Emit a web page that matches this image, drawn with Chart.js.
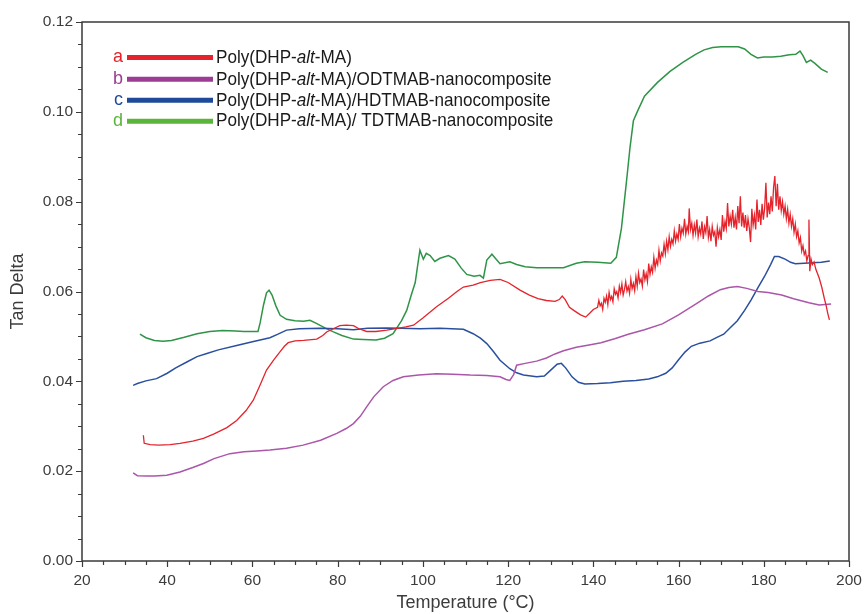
<!DOCTYPE html>
<html>
<head>
<meta charset="utf-8">
<script src="https://cdn.jsdelivr.net/npm/chart.js@4/dist/chart.umd.min.js"></script>
<style>
  html, body { margin: 0; padding: 0; background: #fff; }
  #wrap { width: 866px; height: 614px; }
</style>
</head>
<body>
<div id="wrap"><canvas id="c" width="866" height="614"></canvas></div>
<script>
// Tan delta vs temperature for the copolymer and its nanocomposites.

const seriesLetters = ['a', 'b', 'c', 'd'];
const seriesNames = [
  'Poly(DHP-alt-MA)',
  'Poly(DHP-alt-MA)/ODTMAB-nanocomposite',
  'Poly(DHP-alt-MA)/HDTMAB-nanocomposite',
  'Poly(DHP-alt-MA)/ TDTMAB-nanocomposite'
];

const xTickValues = [20, 40, 60, 80, 100, 120, 140, 160, 180, 200];
const yTickValues = [0, 0.02, 0.04, 0.06, 0.08, 0.10, 0.12];

// a: Poly(DHP-alt-MA) — smooth up to 140 °C, noisy above
const tempA = [34.4,34.6,36,38,40.7,43,46,48.5,51,54,56.3,58.5,60.2,61.8,63.3,65,66.5,67.5,68.4,70,72,75.1,76.5,77.4,79,80.5,82,83.7,85,86.8,89,91.5,94,96,97.8,100,103.2,106,108,109.5,111.8,113.5,115.8,118.1,120,122.8,125,127,129,131,132,132.7,133.4,134.4,135.4,137,138.2,139.2,140,
  141.0,141.3,141.6,141.9,142.2,142.5,142.8,143.1,143.4,143.7,144.0,144.3,144.6,144.9,145.2,145.5,145.8,146.1,146.4,146.7,147.0,147.3,147.6,147.9,148.2,148.5,148.8,149.1,149.4,149.7,
  150.0,150.3,150.6,150.9,151.2,151.5,151.8,152.1,152.4,152.7,153.0,153.3,153.6,153.9,154.2,154.5,154.8,155.1,155.4,155.7,156.0,156.3,156.6,156.9,157.2,157.5,157.8,158.1,158.4,158.7,159.0,159.3,159.6,159.9,
  160.2,160.5,160.8,161.1,161.4,161.7,162.0,162.3,162.5,162.8,163.1,163.4,163.7,164.0,164.3,164.6,164.9,165.2,165.5,165.8,166.1,166.4,166.7,167.0,167.3,167.6,167.9,168.2,168.5,168.8,169.1,169.4,169.7,
  170.0,170.3,170.6,170.9,171.2,171.5,171.8,172.1,172.4,172.7,173.0,173.3,173.6,173.9,174.2,174.5,174.8,175.1,175.4,175.7,176.0,176.3,176.6,176.9,177.2,177.5,177.8,178.1,178.4,178.7,179.0,179.3,179.6,179.9,
  180.2,180.5,180.8,181.1,181.4,181.7,182.0,182.3,182.6,182.9,183.2,183.5,183.8,184.1,184.4,184.7,185.0,185.3,185.6,185.9,186.2,186.5,186.8,187.1,187.4,187.7,188.0,188.3,188.6,188.9,189.2,189.5,189.8,
  190.1,190.4,190.6,190.8,191.1,191.4,191.8,192.2,193.0,193.6,194.2,194.6,195.0,195.4];
const tanA = [0.0280,0.0262,0.0259,0.0258,0.0259,0.0262,0.0267,0.0273,0.0283,0.0297,0.0313,0.0335,0.0358,0.0392,0.0425,0.0448,0.0466,0.0478,0.0486,0.0490,0.0491,0.0494,0.0502,0.0510,0.0517,0.0524,0.0525,0.0524,0.0517,0.0511,0.0511,0.0514,0.0518,0.0521,0.0525,0.0541,0.0566,0.0585,0.0600,0.0610,0.0614,0.0620,0.0625,0.0627,0.0620,0.0603,0.0592,0.0584,0.0580,0.0578,0.0582,0.0590,0.0582,0.0565,0.0558,0.0548,0.0543,0.0552,0.0560,
  0.0565,0.0580,0.0568,0.0574,0.0560,0.0585,0.0576,0.0590,0.0571,0.0598,0.0582,0.0589,0.0577,0.0606,0.0594,0.0600,0.0586,0.0612,0.0598,0.0617,0.0592,0.0604,0.0622,0.0601,0.0611,0.0596,0.0627,0.0606,0.0618,0.0602,
  0.0633,0.0612,0.0641,0.0620,0.0628,0.0612,0.0649,0.0626,0.0640,0.0622,0.0662,0.0638,0.0655,0.0643,0.0676,0.0652,0.0670,0.0660,0.0692,0.0668,0.0686,0.0679,0.0705,0.0684,0.0712,0.0693,0.0722,0.0700,0.0716,0.0706,0.0735,0.0712,0.0728,0.0716,
  0.0750,0.0722,0.0741,0.0730,0.0762,0.0728,0.0745,0.0733,0.0785,0.0738,0.0752,0.0725,0.0748,0.0730,0.0760,0.0722,0.0741,0.0728,0.0756,0.0717,0.0744,0.0731,0.0768,0.0720,0.0738,0.0712,0.0745,0.0725,0.0733,0.0700,0.0742,0.0722,0.0738,
  0.0715,0.0770,0.0733,0.0756,0.0740,0.0797,0.0745,0.0768,0.0750,0.0782,0.0742,0.0765,0.0738,0.0790,0.0752,0.0812,0.0745,0.0776,0.0742,0.0770,0.0735,0.0762,0.0742,0.0710,0.0784,0.0748,0.0770,0.0738,0.0805,0.0755,0.0782,0.0748,0.0795,0.0760,
  0.0785,0.0842,0.0765,0.0798,0.0772,0.0812,0.0778,0.0832,0.0857,0.0790,0.0840,0.0782,0.0812,0.0780,0.0800,0.0772,0.0790,0.0762,0.0783,0.0752,0.0772,0.0745,0.0762,0.0732,0.0750,0.0722,0.0735,0.0708,0.0720,0.0690,0.0702,0.0682,0.0690,
  0.0668,0.0680,0.0760,0.0645,0.0672,0.0660,0.0666,0.0650,0.0630,0.0610,0.0585,0.0570,0.0552,0.0537];

// b: ODTMAB nanocomposite
const tempB = [32.0,33,35.2,37,39.9,43,46,48.5,51,54.7,58,61,64.1,68,71.9,76,79.8,82,83.7,85.3,86.8,88.5,90.7,93,95.4,99,103.2,107,111.1,115,118.1,119.5,120.4,121.3,122,124,126.7,129,131,133,136,139,141.8,145,148.2,152,156.2,160,164.2,167,169.8,171.8,173.8,176,178.6,181,184.2,187,190.6,193,195.8];
const tanB = [0.0196,0.0190,0.0189,0.0189,0.0191,0.0198,0.0208,0.0217,0.0228,0.0239,0.0243,0.0245,0.0247,0.0251,0.0258,0.0269,0.0284,0.0295,0.0306,0.0322,0.0343,0.0366,0.0388,0.0402,0.0410,0.0414,0.0417,0.0416,0.0414,0.0413,0.0410,0.0404,0.0402,0.0415,0.0436,0.0440,0.0445,0.0452,0.0461,0.0468,0.0476,0.0481,0.0486,0.0495,0.0505,0.0515,0.0528,0.0548,0.0573,0.0590,0.0604,0.0609,0.0611,0.0607,0.0600,0.0598,0.0592,0.0584,0.0575,0.0570,0.0572];

// c: HDTMAB nanocomposite
const tempC = [32.0,33,35,37.5,40,42,44.6,47,49.3,52,56.3,60,64.1,66,68,71,75.9,80,83.7,87,91.5,95,99.3,104,109.5,111.8,113.5,115,116.5,118.1,120.4,122,123.6,126.7,128.5,130,131.5,132.5,133.5,135,136.5,138,141,144,147,150,153,155,157,158.5,160,161.5,163,165,167.4,169,170.6,172,173.8,175.5,177,178.6,180.2,181.6,182.5,183.5,185,186.3,187.4,189.5,191.4,193.5,195.5];
const tanC = [0.0391,0.0395,0.0401,0.0406,0.0418,0.0430,0.0443,0.0455,0.0462,0.0470,0.0480,0.0488,0.0497,0.0505,0.0514,0.0517,0.0518,0.0517,0.0515,0.0518,0.0519,0.0518,0.0517,0.0518,0.0516,0.0506,0.0496,0.0484,0.0467,0.0447,0.0428,0.0419,0.0414,0.0410,0.0412,0.0425,0.0438,0.0440,0.0430,0.0410,0.0398,0.0394,0.0395,0.0397,0.0400,0.0402,0.0405,0.0410,0.0418,0.0430,0.0448,0.0465,0.0478,0.0485,0.0490,0.0498,0.0505,0.0518,0.0535,0.0558,0.0581,0.0608,0.0634,0.0660,0.0678,0.0678,0.0672,0.0665,0.0662,0.0663,0.0664,0.0665,0.0668];

// d: TDTMAB nanocomposite
const tempD = [33.6,35,37,39,41,44,47,50,53,56,58,61.3,61.8,62.6,63.3,63.9,64.6,65.5,66.5,68,70,72,73.5,75,77,79,81,83.7,86,89,91,93,95,96.2,97.2,98.2,98.8,99.3,100.1,100.8,101.7,102.8,104,106,107.5,109,110.3,112,113.4,114.2,115,116.2,117.2,118.1,120.4,122,124,126.7,130,133,136,138,141,144.1,145.4,146.6,147.8,148.6,149.4,150.3,152,155,158,161,164,166,168,170,172,174,175.5,177,178.5,180,182,184,186,187.5,188.5,189.2,190,191,192,193.5,195];
const tanD = [0.0505,0.0497,0.0491,0.0489,0.0491,0.0498,0.0506,0.0511,0.0513,0.0512,0.0511,0.0511,0.0530,0.0570,0.0597,0.0603,0.0592,0.0568,0.0547,0.0538,0.0535,0.0534,0.0536,0.0529,0.0519,0.0510,0.0502,0.0494,0.0493,0.0492,0.0496,0.0506,0.0535,0.0558,0.0590,0.0620,0.0660,0.0692,0.0672,0.0685,0.0680,0.0667,0.0674,0.0680,0.0672,0.0652,0.0638,0.0634,0.0636,0.0630,0.0670,0.0683,0.0672,0.0662,0.0666,0.0660,0.0655,0.0653,0.0653,0.0653,0.0663,0.0666,0.0665,0.0663,0.0676,0.0741,0.0847,0.0920,0.0980,0.1000,0.1035,0.1065,0.1090,0.1110,0.1128,0.1138,0.1143,0.1145,0.1145,0.1145,0.1140,0.1128,0.1120,0.1122,0.1122,0.1124,0.1127,0.1128,0.1135,0.1125,0.1110,0.1115,0.1108,0.1095,0.1088];

const lineColors = ['#e5232b', '#ab56aa', '#2a4f9f', '#2f9447'];
const keyColors  = ['#e5232b', '#9c3c94', '#1f4a99', '#5bb53b'];

function toPoints(xs, ys) {
  return xs.map((x, i) => ({ x: x, y: ys[i] }));
}
const seriesTemps = [tempA, tempB, tempC, tempD];
const seriesTans = [tanA, tanB, tanC, tanD];

const datasets = seriesNames.map((name, i) => ({
  label: name,
  data: toPoints(seriesTemps[i], seriesTans[i]),
  borderColor: lineColors[i],
  backgroundColor: lineColors[i],
  borderWidth: i === 0 ? 1.3 : 1.5,
  pointRadius: 0,
  tension: 0,
  fill: false
}));

const AXIS_COLOR = '#3a3a3a';
const TEXT_COLOR = '#3c3c3c';

// Box frame plus outward major/minor tick marks.
const framePlugin = {
  id: 'frame',
  afterDatasetsDraw(chart) {
    const { ctx, chartArea: a, scales } = chart;
    const xs = scales.x, ys = scales.y;
    ctx.save();
    ctx.strokeStyle = AXIS_COLOR;
    ctx.lineWidth = 1.5;
    ctx.strokeRect(a.left, a.top, a.right - a.left, a.bottom - a.top);
    ctx.lineWidth = 1.2;
    ctx.beginPath();
    for (let v = 20; v <= 200.001; v += 5) {
      const px = Math.round(xs.getPixelForValue(v)) + 0.5;
      const len = (Math.abs(v % 20) < 1e-6) ? 6 : 4;
      ctx.moveTo(px, a.bottom);
      ctx.lineTo(px, a.bottom + len);
    }
    for (let k = 0; k <= 24; k++) {
      const v = k * 0.005;
      const py = Math.round(ys.getPixelForValue(v)) + 0.5;
      const len = (k % 4 === 0) ? 6 : 4;
      ctx.moveTo(a.left, py);
      ctx.lineTo(a.left - len, py);
    }
    ctx.stroke();
    ctx.restore();
  }
};

// Lettered key with thick colour bars; "alt" set in italics.
const keyPlugin = {
  id: 'letterKey',
  afterDraw(chart) {
    const ctx = chart.ctx;
    const rowY = [57.5, 79.3, 100.3, 121.2];
    ctx.save();
    chart.data.datasets.forEach((ds, i) => {
      const y = rowY[i];
      ctx.textBaseline = 'middle';
      ctx.font = '18px "Liberation Sans", Arial, sans-serif';
      ctx.fillStyle = keyColors[i];
      ctx.textAlign = 'right';
      ctx.fillText(seriesLetters[i], 123, y);
      ctx.strokeStyle = keyColors[i];
      ctx.lineWidth = 5;
      ctx.beginPath();
      ctx.moveTo(127, y);
      ctx.lineTo(213, y);
      ctx.stroke();
      // label text, slightly condensed
      ctx.save();
      ctx.translate(216, y);
      ctx.scale(0.9, 1);
      ctx.textAlign = 'left';
      ctx.fillStyle = '#1a1a1a';
      const parts = ds.label.split('alt');
      let x = 0;
      parts.forEach((p, j) => {
        ctx.font = '19px "Liberation Sans", Arial, sans-serif';
        ctx.fillText(p, x, 0);
        x += ctx.measureText(p).width;
        if (j < parts.length - 1) {
          ctx.font = 'italic 19px "Liberation Sans", Arial, sans-serif';
          ctx.fillText('alt', x, 0);
          x += ctx.measureText('alt').width;
        }
      });
      ctx.restore();
    });
    ctx.restore();
  }
};

new Chart(document.getElementById('c'), {
  type: 'line',
  data: { datasets },
  options: {
    responsive: false,
    animation: false,
    devicePixelRatio: 1,
    layout: { padding: { left: 0, right: 17, top: 22, bottom: 0 } },
    plugins: {
      legend: { display: false },
      tooltip: { enabled: false }
    },
    scales: {
      x: {
        type: 'linear',
        min: 20,
        max: 200,
        afterBuildTicks(scale) { scale.ticks = xTickValues.map(v => ({ value: v })); },
        ticks: {
          color: TEXT_COLOR,
          font: { family: '"Liberation Sans", Arial, sans-serif', size: 15.5 },
          padding: 10,
          maxRotation: 0,
          callback: v => String(v)
        },
        grid: { display: false, drawTicks: false },
        border: { display: false },
        title: {
          display: true,
          text: 'Temperature (°C)',
          color: TEXT_COLOR,
          font: { family: '"Liberation Sans", Arial, sans-serif', size: 18 },
          padding: { top: 0, bottom: 0 }
        },
        afterFit(scale) {
          scale.height = 53;
          scale.paddingLeft = 0;
          scale.paddingRight = 0;
        }
      },
      y: {
        type: 'linear',
        min: 0,
        max: 0.12,
        afterBuildTicks(scale) { scale.ticks = yTickValues.map(v => ({ value: v })); },
        ticks: {
          color: TEXT_COLOR,
          font: { family: '"Liberation Sans", Arial, sans-serif', size: 15.5 },
          padding: 9,
          callback: v => Number(v).toFixed(2)
        },
        grid: { display: false, drawTicks: false },
        border: { display: false },
        title: {
          display: true,
          text: 'Tan Delta',
          color: TEXT_COLOR,
          font: { family: '"Liberation Sans", Arial, sans-serif', size: 18 },
          padding: { top: 7, bottom: 0 }
        },
        afterFit(scale) {
          scale.width = 82;
          scale.paddingTop = 0;
          scale.paddingBottom = 0;
        }
      }
    }
  },
  plugins: [framePlugin, keyPlugin]
});
</script>
</body>
</html>
